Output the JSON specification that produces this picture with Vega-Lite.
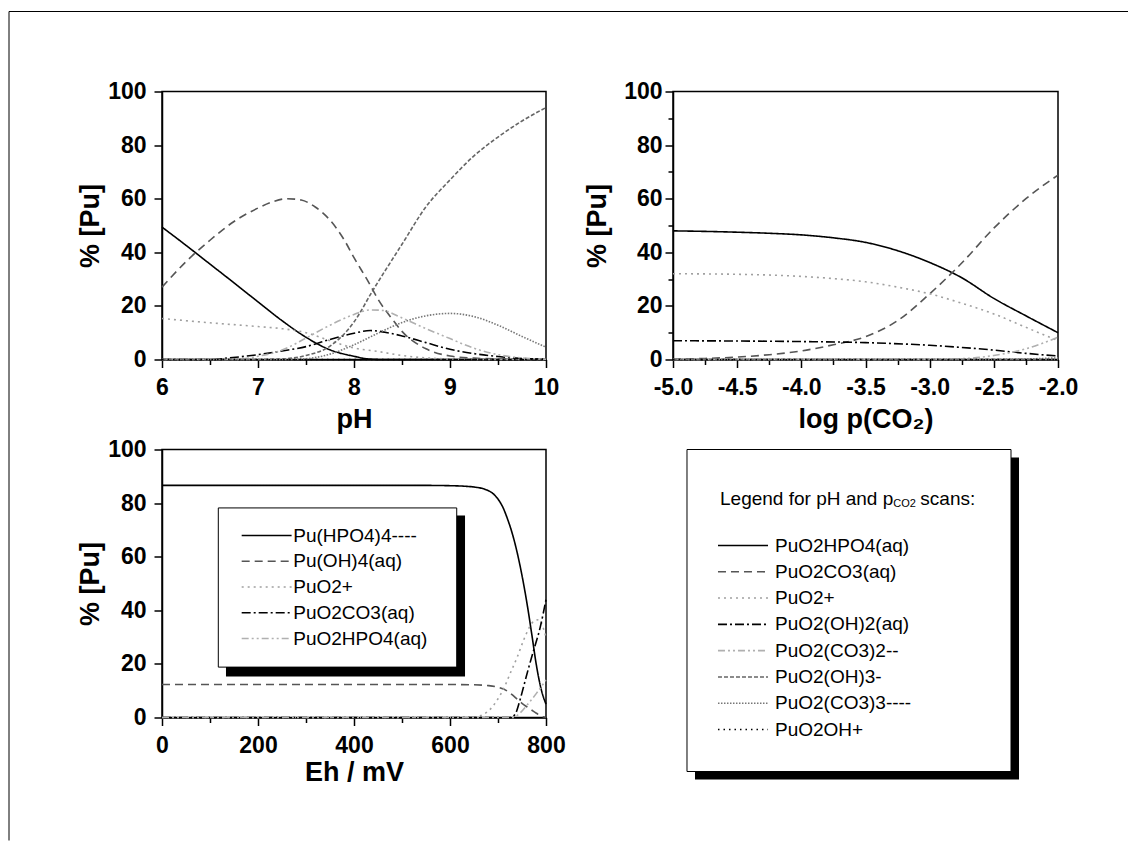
{
  "$schema": "https://vega.github.io/schema/vega-lite/v6.json",
  "background": "white",
  "padding": {"left": 7, "top": 9.5, "right": 0, "bottom": 0},
  "config": {
    "font": "Liberation Sans",
    "view": {"stroke": "black", "strokeWidth": 1.5},
    "axis": {
      "grid": false,
      "labelFont": "Liberation Sans", "labelFontWeight": "bold", "labelFontSize": 23, "labelColor": "black",
      "titleFont": "Liberation Sans", "titleFontWeight": "bold", "titleFontSize": 27, "titleColor": "black",
      "domainColor": "black", "domainWidth": 1.5, "tickColor": "black", "tickWidth": 1.5,
      "labelOverlap": false, "labelFlush": false
    }
  },
  "datasets": {
    "ph": [
      {"pH":6,"species":"PuO2HPO4(aq)","pct":49.4},{"pH":6.25,"species":"PuO2HPO4(aq)","pct":42.6},{"pH":6.5,"species":"PuO2HPO4(aq)","pct":35.6},{"pH":6.75,"species":"PuO2HPO4(aq)","pct":28.6},{"pH":7,"species":"PuO2HPO4(aq)","pct":21.5},{"pH":7.25,"species":"PuO2HPO4(aq)","pct":14.5},{"pH":7.5,"species":"PuO2HPO4(aq)","pct":8.3},{"pH":7.75,"species":"PuO2HPO4(aq)","pct":3.6},{"pH":8,"species":"PuO2HPO4(aq)","pct":1.2},{"pH":8.15,"species":"PuO2HPO4(aq)","pct":0.2},{"pH":8.3,"species":"PuO2HPO4(aq)","pct":0},{"pH":9,"species":"PuO2HPO4(aq)","pct":0},{"pH":10,"species":"PuO2HPO4(aq)","pct":0},
      {"pH":6,"species":"PuO2CO3(aq)","pct":27},{"pH":6.25,"species":"PuO2CO3(aq)","pct":36.5},{"pH":6.5,"species":"PuO2CO3(aq)","pct":44.5},{"pH":6.75,"species":"PuO2CO3(aq)","pct":51.5},{"pH":7,"species":"PuO2CO3(aq)","pct":56.5},{"pH":7.15,"species":"PuO2CO3(aq)","pct":58.8},{"pH":7.3,"species":"PuO2CO3(aq)","pct":60},{"pH":7.45,"species":"PuO2CO3(aq)","pct":59.5},{"pH":7.6,"species":"PuO2CO3(aq)","pct":56.8},{"pH":7.75,"species":"PuO2CO3(aq)","pct":52},{"pH":7.9,"species":"PuO2CO3(aq)","pct":44.5},{"pH":8,"species":"PuO2CO3(aq)","pct":38},{"pH":8.15,"species":"PuO2CO3(aq)","pct":29},{"pH":8.25,"species":"PuO2CO3(aq)","pct":22.5},{"pH":8.4,"species":"PuO2CO3(aq)","pct":15},{"pH":8.5,"species":"PuO2CO3(aq)","pct":10.5},{"pH":8.75,"species":"PuO2CO3(aq)","pct":4},{"pH":9,"species":"PuO2CO3(aq)","pct":1.3},{"pH":9.25,"species":"PuO2CO3(aq)","pct":0.5},{"pH":9.5,"species":"PuO2CO3(aq)","pct":0.2},{"pH":10,"species":"PuO2CO3(aq)","pct":0},
      {"pH":6,"species":"PuO2+","pct":15.3},{"pH":6.5,"species":"PuO2+","pct":13.7},{"pH":7,"species":"PuO2+","pct":12.3},{"pH":7.25,"species":"PuO2+","pct":11.5},{"pH":7.5,"species":"PuO2+","pct":10},{"pH":7.75,"species":"PuO2+","pct":7},{"pH":8,"species":"PuO2+","pct":4.3},{"pH":8.25,"species":"PuO2+","pct":3},{"pH":8.5,"species":"PuO2+","pct":1.5},{"pH":8.75,"species":"PuO2+","pct":0.6},{"pH":9,"species":"PuO2+","pct":0.2},{"pH":9.5,"species":"PuO2+","pct":0},{"pH":10,"species":"PuO2+","pct":0},
      {"pH":6,"species":"PuO2(OH)2(aq)","pct":0},{"pH":6.5,"species":"PuO2(OH)2(aq)","pct":0},{"pH":6.7,"species":"PuO2(OH)2(aq)","pct":0.6},{"pH":7,"species":"PuO2(OH)2(aq)","pct":1.8},{"pH":7.25,"species":"PuO2(OH)2(aq)","pct":3.2},{"pH":7.5,"species":"PuO2(OH)2(aq)","pct":4.8},{"pH":7.75,"species":"PuO2(OH)2(aq)","pct":7.5},{"pH":8,"species":"PuO2(OH)2(aq)","pct":9.8},{"pH":8.17,"species":"PuO2(OH)2(aq)","pct":10.8},{"pH":8.35,"species":"PuO2(OH)2(aq)","pct":10},{"pH":8.5,"species":"PuO2(OH)2(aq)","pct":8.8},{"pH":8.75,"species":"PuO2(OH)2(aq)","pct":6.3},{"pH":9,"species":"PuO2(OH)2(aq)","pct":3.8},{"pH":9.25,"species":"PuO2(OH)2(aq)","pct":2.2},{"pH":9.5,"species":"PuO2(OH)2(aq)","pct":1.1},{"pH":9.75,"species":"PuO2(OH)2(aq)","pct":0.4},{"pH":10,"species":"PuO2(OH)2(aq)","pct":0.1},
      {"pH":6,"species":"PuO2(CO3)2--","pct":0},{"pH":6.75,"species":"PuO2(CO3)2--","pct":0},{"pH":7,"species":"PuO2(CO3)2--","pct":1.2},{"pH":7.25,"species":"PuO2(CO3)2--","pct":3.5},{"pH":7.5,"species":"PuO2(CO3)2--","pct":8},{"pH":7.75,"species":"PuO2(CO3)2--","pct":12.8},{"pH":8,"species":"PuO2(CO3)2--","pct":16.8},{"pH":8.17,"species":"PuO2(CO3)2--","pct":18.5},{"pH":8.3,"species":"PuO2(CO3)2--","pct":18.3},{"pH":8.5,"species":"PuO2(CO3)2--","pct":15.5},{"pH":8.75,"species":"PuO2(CO3)2--","pct":11.5},{"pH":9,"species":"PuO2(CO3)2--","pct":7.8},{"pH":9.25,"species":"PuO2(CO3)2--","pct":4.2},{"pH":9.5,"species":"PuO2(CO3)2--","pct":1.8},{"pH":9.75,"species":"PuO2(CO3)2--","pct":0.6},{"pH":10,"species":"PuO2(CO3)2--","pct":0.1},
      {"pH":6,"species":"PuO2(OH)3-","pct":0},{"pH":7,"species":"PuO2(OH)3-","pct":0},{"pH":7.25,"species":"PuO2(OH)3-","pct":0.2},{"pH":7.5,"species":"PuO2(OH)3-","pct":1.5},{"pH":7.75,"species":"PuO2(OH)3-","pct":5},{"pH":8,"species":"PuO2(OH)3-","pct":14},{"pH":8.2,"species":"PuO2(OH)3-","pct":26},{"pH":8.5,"species":"PuO2(OH)3-","pct":43},{"pH":8.75,"species":"PuO2(OH)3-","pct":57},{"pH":9,"species":"PuO2(OH)3-","pct":67},{"pH":9.25,"species":"PuO2(OH)3-","pct":76},{"pH":9.5,"species":"PuO2(OH)3-","pct":83},{"pH":9.75,"species":"PuO2(OH)3-","pct":89},{"pH":10,"species":"PuO2(OH)3-","pct":94},
      {"pH":6,"species":"PuO2(CO3)3----","pct":0},{"pH":7.25,"species":"PuO2(CO3)3----","pct":0},{"pH":7.5,"species":"PuO2(CO3)3----","pct":0.3},{"pH":7.75,"species":"PuO2(CO3)3----","pct":2},{"pH":8,"species":"PuO2(CO3)3----","pct":5.5},{"pH":8.25,"species":"PuO2(CO3)3----","pct":9.8},{"pH":8.5,"species":"PuO2(CO3)3----","pct":13.8},{"pH":8.75,"species":"PuO2(CO3)3----","pct":16.3},{"pH":9,"species":"PuO2(CO3)3----","pct":17.2},{"pH":9.25,"species":"PuO2(CO3)3----","pct":16},{"pH":9.5,"species":"PuO2(CO3)3----","pct":12.8},{"pH":9.75,"species":"PuO2(CO3)3----","pct":8.6},{"pH":10,"species":"PuO2(CO3)3----","pct":4.6},
      {"pH":6,"species":"PuO2OH+","pct":0},{"pH":8,"species":"PuO2OH+","pct":0},{"pH":10,"species":"PuO2OH+","pct":0}
    ],
    "co2": [
      {"lpco2":-5,"species":"PuO2HPO4(aq)","pct":48},{"lpco2":-4.75,"species":"PuO2HPO4(aq)","pct":47.8},{"lpco2":-4.5,"species":"PuO2HPO4(aq)","pct":47.5},{"lpco2":-4.25,"species":"PuO2HPO4(aq)","pct":47.1},{"lpco2":-4,"species":"PuO2HPO4(aq)","pct":46.5},{"lpco2":-3.75,"species":"PuO2HPO4(aq)","pct":45.4},{"lpco2":-3.5,"species":"PuO2HPO4(aq)","pct":43.7},{"lpco2":-3.25,"species":"PuO2HPO4(aq)","pct":40.6},{"lpco2":-3,"species":"PuO2HPO4(aq)","pct":36.2},{"lpco2":-2.75,"species":"PuO2HPO4(aq)","pct":30.5},{"lpco2":-2.5,"species":"PuO2HPO4(aq)","pct":22.8},{"lpco2":-2.25,"species":"PuO2HPO4(aq)","pct":16.3},{"lpco2":-2,"species":"PuO2HPO4(aq)","pct":10},
      {"lpco2":-5,"species":"PuO2CO3(aq)","pct":0.1},{"lpco2":-4.75,"species":"PuO2CO3(aq)","pct":0.4},{"lpco2":-4.5,"species":"PuO2CO3(aq)","pct":0.9},{"lpco2":-4.25,"species":"PuO2CO3(aq)","pct":1.8},{"lpco2":-4,"species":"PuO2CO3(aq)","pct":3.2},{"lpco2":-3.75,"species":"PuO2CO3(aq)","pct":5.5},{"lpco2":-3.5,"species":"PuO2CO3(aq)","pct":8.5},{"lpco2":-3.25,"species":"PuO2CO3(aq)","pct":14.5},{"lpco2":-3,"species":"PuO2CO3(aq)","pct":24.5},{"lpco2":-2.75,"species":"PuO2CO3(aq)","pct":36},{"lpco2":-2.5,"species":"PuO2CO3(aq)","pct":49},{"lpco2":-2.25,"species":"PuO2CO3(aq)","pct":60},{"lpco2":-2,"species":"PuO2CO3(aq)","pct":68.8},
      {"lpco2":-5,"species":"PuO2+","pct":32},{"lpco2":-4.5,"species":"PuO2+","pct":31.8},{"lpco2":-4,"species":"PuO2+","pct":31},{"lpco2":-3.75,"species":"PuO2+","pct":30.2},{"lpco2":-3.5,"species":"PuO2+","pct":29},{"lpco2":-3.25,"species":"PuO2+","pct":27},{"lpco2":-3,"species":"PuO2+","pct":24.5},{"lpco2":-2.75,"species":"PuO2+","pct":21},{"lpco2":-2.5,"species":"PuO2+","pct":17},{"lpco2":-2.25,"species":"PuO2+","pct":12},{"lpco2":-2,"species":"PuO2+","pct":7},
      {"lpco2":-5,"species":"PuO2(OH)2(aq)","pct":7},{"lpco2":-4.5,"species":"PuO2(OH)2(aq)","pct":6.9},{"lpco2":-4,"species":"PuO2(OH)2(aq)","pct":6.7},{"lpco2":-3.5,"species":"PuO2(OH)2(aq)","pct":6.3},{"lpco2":-3,"species":"PuO2(OH)2(aq)","pct":5.3},{"lpco2":-2.75,"species":"PuO2(OH)2(aq)","pct":4.5},{"lpco2":-2.5,"species":"PuO2(OH)2(aq)","pct":3.5},{"lpco2":-2.25,"species":"PuO2(OH)2(aq)","pct":2.3},{"lpco2":-2,"species":"PuO2(OH)2(aq)","pct":1.3},
      {"lpco2":-5,"species":"PuO2(CO3)2--","pct":0},{"lpco2":-3,"species":"PuO2(CO3)2--","pct":0},{"lpco2":-2.75,"species":"PuO2(CO3)2--","pct":0.3},{"lpco2":-2.5,"species":"PuO2(CO3)2--","pct":1.5},{"lpco2":-2.25,"species":"PuO2(CO3)2--","pct":4},{"lpco2":-2,"species":"PuO2(CO3)2--","pct":8.3},
      {"lpco2":-5,"species":"PuO2(OH)3-","pct":0},{"lpco2":-2,"species":"PuO2(OH)3-","pct":0},
      {"lpco2":-5,"species":"PuO2(CO3)3----","pct":0},{"lpco2":-2.5,"species":"PuO2(CO3)3----","pct":0},{"lpco2":-2.25,"species":"PuO2(CO3)3----","pct":0.2},{"lpco2":-2,"species":"PuO2(CO3)3----","pct":0.6},
      {"lpco2":-5,"species":"PuO2OH+","pct":0},{"lpco2":-2,"species":"PuO2OH+","pct":0}
    ],
    "eh": [
      {"Eh":0,"species":"Pu(HPO4)4----","pct":86.6},{"Eh":400,"species":"Pu(HPO4)4----","pct":86.6},{"Eh":550,"species":"Pu(HPO4)4----","pct":86.6},{"Eh":600,"species":"Pu(HPO4)4----","pct":86.5},{"Eh":630,"species":"Pu(HPO4)4----","pct":86.3},{"Eh":650,"species":"Pu(HPO4)4----","pct":86},{"Eh":675,"species":"Pu(HPO4)4----","pct":85},{"Eh":690,"species":"Pu(HPO4)4----","pct":83.5},{"Eh":700,"species":"Pu(HPO4)4----","pct":81.5},{"Eh":710,"species":"Pu(HPO4)4----","pct":78.5},{"Eh":720,"species":"Pu(HPO4)4----","pct":74},{"Eh":730,"species":"Pu(HPO4)4----","pct":68.5},{"Eh":740,"species":"Pu(HPO4)4----","pct":61.5},{"Eh":750,"species":"Pu(HPO4)4----","pct":53},{"Eh":760,"species":"Pu(HPO4)4----","pct":43},{"Eh":770,"species":"Pu(HPO4)4----","pct":31.5},{"Eh":780,"species":"Pu(HPO4)4----","pct":19.5},{"Eh":790,"species":"Pu(HPO4)4----","pct":10.5},{"Eh":800,"species":"Pu(HPO4)4----","pct":5},
      {"Eh":0,"species":"Pu(OH)4(aq)","pct":12.3},{"Eh":600,"species":"Pu(OH)4(aq)","pct":12.3},{"Eh":650,"species":"Pu(OH)4(aq)","pct":12.2},{"Eh":680,"species":"Pu(OH)4(aq)","pct":11.9},{"Eh":700,"species":"Pu(OH)4(aq)","pct":11.3},{"Eh":715,"species":"Pu(OH)4(aq)","pct":10.3},{"Eh":730,"species":"Pu(OH)4(aq)","pct":8.4},{"Eh":740,"species":"Pu(OH)4(aq)","pct":6.8},{"Eh":750,"species":"Pu(OH)4(aq)","pct":5.3},{"Eh":760,"species":"Pu(OH)4(aq)","pct":4},{"Eh":770,"species":"Pu(OH)4(aq)","pct":2.8},{"Eh":780,"species":"Pu(OH)4(aq)","pct":1.6},{"Eh":790,"species":"Pu(OH)4(aq)","pct":0.5},{"Eh":800,"species":"Pu(OH)4(aq)","pct":0.1},
      {"Eh":0,"species":"PuO2+","pct":0},{"Eh":620,"species":"PuO2+","pct":0},{"Eh":650,"species":"PuO2+","pct":0.2},{"Eh":670,"species":"PuO2+","pct":1.2},{"Eh":685,"species":"PuO2+","pct":3.3},{"Eh":700,"species":"PuO2+","pct":7},{"Eh":715,"species":"PuO2+","pct":12},{"Eh":725,"species":"PuO2+","pct":16.3},{"Eh":740,"species":"PuO2+","pct":22.5},{"Eh":753,"species":"PuO2+","pct":28.7},{"Eh":765,"species":"PuO2+","pct":33.5},{"Eh":775,"species":"PuO2+","pct":36},{"Eh":785,"species":"PuO2+","pct":36.5},{"Eh":795,"species":"PuO2+","pct":33},{"Eh":800,"species":"PuO2+","pct":30},
      {"Eh":0,"species":"PuO2CO3(aq)","pct":0},{"Eh":725,"species":"PuO2CO3(aq)","pct":0},{"Eh":735,"species":"PuO2CO3(aq)","pct":1},{"Eh":745,"species":"PuO2CO3(aq)","pct":6},{"Eh":753,"species":"PuO2CO3(aq)","pct":11.3},{"Eh":763,"species":"PuO2CO3(aq)","pct":18},{"Eh":773,"species":"PuO2CO3(aq)","pct":24.3},{"Eh":788,"species":"PuO2CO3(aq)","pct":33.7},{"Eh":800,"species":"PuO2CO3(aq)","pct":44},
      {"Eh":0,"species":"PuO2HPO4(aq)","pct":0},{"Eh":730,"species":"PuO2HPO4(aq)","pct":0},{"Eh":745,"species":"PuO2HPO4(aq)","pct":1.5},{"Eh":760,"species":"PuO2HPO4(aq)","pct":4.5},{"Eh":780,"species":"PuO2HPO4(aq)","pct":9},{"Eh":800,"species":"PuO2HPO4(aq)","pct":14}
    ],
    "legTop": [
      {"species":"PuO2HPO4(aq)"},{"species":"PuO2CO3(aq)"},{"species":"PuO2+"},{"species":"PuO2(OH)2(aq)"},{"species":"PuO2(CO3)2--"},{"species":"PuO2(OH)3-"},{"species":"PuO2(CO3)3----"},{"species":"PuO2OH+"}
    ],
    "legEh": [
      {"species":"Pu(HPO4)4----"},{"species":"Pu(OH)4(aq)"},{"species":"PuO2+"},{"species":"PuO2CO3(aq)"},{"species":"PuO2HPO4(aq)"}
    ],
    "one": [{}]
  },
  "columns": 2,
  "spacing": {"row": 90, "column": 127},
  "bounds": "flush",
  "resolve": {"scale": {"color": "independent", "strokeDash": "independent"}},
  "concat": [
    {
      "width": 384, "height": 268,
      "layer": [
        {
          "data": {"name": "ph"},
          "mark": {"type": "line", "strokeWidth": 1.6, "interpolate": "monotone"},
          "encoding": {
            "x": {"field": "pH", "type": "quantitative", "scale": {"domain": [6, 10], "nice": false, "zero": false},
              "axis": {"title": "pH", "values": [6, 6.5, 7, 7.5, 8, 8.5, 9, 9.5, 10], "labelExpr": "datum.value % 1 === 0 ? format(datum.value, 'd') : ''",
                "tickSize": {"condition": {"test": "datum.value % 1 !== 0", "value": 5}, "value": 8}, "labelPadding": 9, "titlePadding": 7}},
            "y": {"field": "pct", "type": "quantitative", "scale": {"domain": [0, 100], "nice": false},
              "axis": {"title": "% [Pu]", "values": [0, 10, 20, 30, 40, 50, 60, 70, 80, 90, 100], "labelExpr": "datum.value % 20 === 0 ? datum.label : ''",
                "tickSize": {"condition": {"test": "datum.value % 20 !== 0", "value": 5}, "value": 8}, "labelPadding": 8, "titlePadding": 3}},
            "strokeDash": {"field": "species", "type": "nominal", "legend": null,
              "scale": {"domain": ["PuO2HPO4(aq)", "PuO2CO3(aq)", "PuO2+", "PuO2(OH)2(aq)", "PuO2(CO3)2--", "PuO2(OH)3-", "PuO2(CO3)3----", "PuO2OH+"],
                "range": [[1, 0], [8, 5], [2, 4], [9, 3, 2, 3], [7, 3, 2, 3, 2, 3], [4, 2], [1.5, 1.5], [1.5, 4]]}},
            "color": {"field": "species", "type": "nominal", "legend": null,
              "scale": {"domain": ["PuO2HPO4(aq)", "PuO2CO3(aq)", "PuO2+", "PuO2(OH)2(aq)", "PuO2(CO3)2--", "PuO2(OH)3-", "PuO2(CO3)3----", "PuO2OH+"],
                "range": ["#000000", "#555555", "#a0a0a0", "#000000", "#b0b0b0", "#666666", "#777777", "#000000"]}}
          }
        },
        {
          "data": {"name": "one"},
          "mark": {"type": "rule", "color": "black", "strokeWidth": 1},
          "encoding": {
            "x": {"datum": 4.40625, "type": "quantitative"}, "x2": {"datum": 16.0625},
            "y": {"datum": 129.85, "type": "quantitative"}
          }
        },
        {
          "data": {"name": "one"},
          "mark": {"type": "rule", "color": "black", "strokeWidth": 1},
          "encoding": {
            "x": {"datum": 4.40625, "type": "quantitative"},
            "y": {"datum": 129.85, "type": "quantitative"}, "y2": {"datum": -179.48}
          }
        }
      ]
    },
    {
      "width": 385, "height": 268,
      "data": {"name": "co2"},
      "mark": {"type": "line", "strokeWidth": 1.6, "interpolate": "monotone"},
      "encoding": {
        "x": {"field": "lpco2", "type": "quantitative", "scale": {"domain": [-5, -2], "nice": false, "zero": false},
          "axis": {"title": "log p(CO₂)", "values": [-5, -4.75, -4.5, -4.25, -4, -3.75, -3.5, -3.25, -3, -2.75, -2.5, -2.25, -2],
            "labelExpr": "(datum.value * 4) % 2 === 0 ? ('-' + format(-datum.value, '.1f')) : ''",
            "tickSize": {"condition": {"test": "(datum.value * 4) % 2 !== 0", "value": 5}, "value": 8}, "labelPadding": 9, "titlePadding": 7}},
        "y": {"field": "pct", "type": "quantitative", "scale": {"domain": [0, 100], "nice": false},
          "axis": {"title": "% [Pu]", "values": [0, 10, 20, 30, 40, 50, 60, 70, 80, 90, 100], "labelExpr": "datum.value % 20 === 0 ? datum.label : ''",
            "tickSize": {"condition": {"test": "datum.value % 20 !== 0", "value": 5}, "value": 8}, "labelPadding": 3, "titlePadding": 12}},
        "strokeDash": {"field": "species", "type": "nominal", "legend": null,
          "scale": {"domain": ["PuO2HPO4(aq)", "PuO2CO3(aq)", "PuO2+", "PuO2(OH)2(aq)", "PuO2(CO3)2--", "PuO2(OH)3-", "PuO2(CO3)3----", "PuO2OH+"],
            "range": [[1, 0], [8, 5], [2, 4], [9, 3, 2, 3], [7, 3, 2, 3, 2, 3], [4, 2], [1.5, 1.5], [1.5, 4]]}},
        "color": {"field": "species", "type": "nominal", "legend": null,
          "scale": {"domain": ["PuO2HPO4(aq)", "PuO2CO3(aq)", "PuO2+", "PuO2(OH)2(aq)", "PuO2(CO3)2--", "PuO2(OH)3-", "PuO2(CO3)3----", "PuO2OH+"],
            "range": ["#000000", "#555555", "#a0a0a0", "#000000", "#b0b0b0", "#666666", "#777777", "#000000"]}}
      }
    },
    {
      "width": 384, "height": 268,
      "resolve": {"scale": {"y": "independent"}},
      "layer": [
        {
          "layer": [
            {
              "data": {"name": "eh"},
              "mark": {"type": "line", "strokeWidth": 1.6, "interpolate": "monotone"},
              "encoding": {
                "x": {"field": "Eh", "type": "quantitative", "scale": {"domain": [0, 800], "nice": false, "zero": false},
                  "axis": {"title": "Eh / mV", "values": [0, 100, 200, 300, 400, 500, 600, 700, 800], "labelExpr": "datum.value % 200 === 0 ? datum.label : ''",
                    "tickSize": {"condition": {"test": "datum.value % 200 !== 0", "value": 5}, "value": 8}, "labelPadding": 9, "titlePadding": 2}},
                "y": {"field": "pct", "type": "quantitative", "scale": {"domain": [0, 100], "nice": false},
                  "axis": {"title": "% [Pu]", "values": [0, 10, 20, 30, 40, 50, 60, 70, 80, 90, 100], "labelExpr": "datum.value % 20 === 0 ? datum.label : ''",
                    "tickSize": {"condition": {"test": "datum.value % 20 !== 0", "value": 5}, "value": 8}, "labelPadding": 8, "titlePadding": 3}},
                "strokeDash": {"field": "species", "type": "nominal", "legend": null,
                  "scale": {"domain": ["Pu(HPO4)4----", "Pu(OH)4(aq)", "PuO2+", "PuO2CO3(aq)", "PuO2HPO4(aq)"],
                    "range": [[1, 0], [8, 5], [2, 4], [9, 3, 2, 3], [7, 3, 2, 3, 2, 3]]}},
                "color": {"field": "species", "type": "nominal", "legend": null,
                  "scale": {"domain": ["Pu(HPO4)4----", "Pu(OH)4(aq)", "PuO2+", "PuO2CO3(aq)", "PuO2HPO4(aq)"],
                    "range": ["#000000", "#555555", "#a0a0a0", "#000000", "#b0b0b0"]}}
              }
            },
            {
              "data": {"name": "one"},
              "mark": {"type": "rect", "color": "black"},
              "encoding": {
                "x": {"datum": 133.3, "type": "quantitative"}, "x2": {"datum": 631.3},
                "y": {"datum": 75.4, "type": "quantitative"}, "y2": {"datum": 15.3}
              }
            },
            {
              "data": {"name": "one"},
              "mark": {"type": "rect", "fill": "white", "stroke": "black", "strokeWidth": 1},
              "encoding": {
                "x": {"datum": 117.3, "type": "quantitative"}, "x2": {"datum": 614},
                "y": {"datum": 78.2, "type": "quantitative"}, "y2": {"datum": 18.8}
              }
            }
          ]
        },
        {
          "data": {"name": "legEh"},
          "layer": [
            {
              "mark": {"type": "rule", "strokeWidth": 1.6},
              "encoding": {
                "x": {"datum": 166, "type": "quantitative"}, "x2": {"datum": 270},
                "y": {"field": "species", "type": "nominal", "axis": null,
                  "scale": {"type": "point", "domain": ["Pu(HPO4)4----", "Pu(OH)4(aq)", "PuO2+", "PuO2CO3(aq)", "PuO2HPO4(aq)"], "range": [86, 189], "padding": 0}},
                "strokeDash": {"field": "species", "type": "nominal", "legend": null,
                  "scale": {"domain": ["Pu(HPO4)4----", "Pu(OH)4(aq)", "PuO2+", "PuO2CO3(aq)", "PuO2HPO4(aq)"],
                    "range": [[1, 0], [8, 5], [2, 4], [9, 3, 2, 3], [7, 3, 2, 3, 2, 3]]}},
                "color": {"field": "species", "type": "nominal", "legend": null,
                  "scale": {"domain": ["Pu(HPO4)4----", "Pu(OH)4(aq)", "PuO2+", "PuO2CO3(aq)", "PuO2HPO4(aq)"],
                    "range": ["#000000", "#555555", "#a0a0a0", "#000000", "#b0b0b0"]}}
              }
            },
            {
              "mark": {"type": "text", "align": "left", "baseline": "middle", "fontSize": 19, "font": "Liberation Sans", "color": "black"},
              "encoding": {
                "x": {"datum": 273.5, "type": "quantitative"},
                "y": {"field": "species", "type": "nominal", "axis": null,
                  "scale": {"type": "point", "domain": ["Pu(HPO4)4----", "Pu(OH)4(aq)", "PuO2+", "PuO2CO3(aq)", "PuO2HPO4(aq)"], "range": [86, 189], "padding": 0}},
                "text": {"field": "species"}
              }
            }
          ]
        }
      ]
    },
    {
      "width": 338, "height": 322,
      "view": {"stroke": null},
      "resolve": {"scale": {"y": "independent"}},
      "layer": [
        {
          "data": {"name": "one"},
          "layer": [
            {
              "mark": {"type": "rect", "color": "black"},
              "encoding": {
                "x": {"datum": 0.0651, "type": "quantitative", "scale": {"domain": [0, 1], "nice": false, "zero": false}, "axis": null}, "x2": {"datum": 1.0237},
                "y": {"datum": 0.0248, "type": "quantitative", "scale": {"domain": [0, 1], "nice": false, "zero": false, "reverse": true}, "axis": null}, "y2": {"datum": 1.0248}
              }
            },
            {
              "mark": {"type": "rect", "fill": "white", "stroke": "black", "strokeWidth": 1},
              "encoding": {
                "x": {"datum": 0.0414, "type": "quantitative"}, "x2": {"datum": 1},
                "y": {"datum": 0, "type": "quantitative"}, "y2": {"datum": 1}
              }
            },
            {
              "mark": {"type": "text", "align": "left", "baseline": "middle", "fontSize": 19, "font": "Liberation Sans", "color": "black"},
              "encoding": {
                "x": {"datum": 0.1391, "type": "quantitative"},
                "y": {"datum": 0.1543, "type": "quantitative"},
                "text": {"value": "Legend for pH and p"}
              }
            },
            {
              "mark": {"type": "text", "align": "left", "baseline": "middle", "fontSize": 11, "font": "Liberation Sans", "color": "black"},
              "encoding": {
                "x": {"datum": 0.6515, "type": "quantitative"},
                "y": {"datum": 0.1708, "type": "quantitative"},
                "text": {"value": "CO2"}
              }
            },
            {
              "mark": {"type": "text", "align": "left", "baseline": "middle", "fontSize": 19, "font": "Liberation Sans", "color": "black"},
              "encoding": {
                "x": {"datum": 0.7317, "type": "quantitative"},
                "y": {"datum": 0.1543, "type": "quantitative"},
                "text": {"value": "scans:"}
              }
            }
          ]
        },
        {
          "data": {"name": "legTop"},
          "layer": [
            {
              "mark": {"type": "rule", "strokeWidth": 1.6},
              "encoding": {
                "x": {"datum": 0.1331, "type": "quantitative"}, "x2": {"datum": 0.2811},
                "y": {"field": "species", "type": "nominal", "axis": null,
                  "scale": {"type": "point", "domain": ["PuO2HPO4(aq)", "PuO2CO3(aq)", "PuO2+", "PuO2(OH)2(aq)", "PuO2(CO3)2--", "PuO2(OH)3-", "PuO2(CO3)3----", "PuO2OH+"], "range": [96, 280], "padding": 0}},
                "strokeDash": {"field": "species", "type": "nominal", "legend": null,
                  "scale": {"domain": ["PuO2HPO4(aq)", "PuO2CO3(aq)", "PuO2+", "PuO2(OH)2(aq)", "PuO2(CO3)2--", "PuO2(OH)3-", "PuO2(CO3)3----", "PuO2OH+"],
                    "range": [[1, 0], [8, 5], [2, 4], [9, 3, 2, 3], [7, 3, 2, 3, 2, 3], [4, 2], [1.5, 1.5], [1.5, 4]]}},
                "color": {"field": "species", "type": "nominal", "legend": null,
                  "scale": {"domain": ["PuO2HPO4(aq)", "PuO2CO3(aq)", "PuO2+", "PuO2(OH)2(aq)", "PuO2(CO3)2--", "PuO2(OH)3-", "PuO2(CO3)3----", "PuO2OH+"],
                    "range": ["#000000", "#555555", "#a0a0a0", "#000000", "#b0b0b0", "#666666", "#777777", "#000000"]}}
              }
            },
            {
              "mark": {"type": "text", "align": "left", "baseline": "middle", "fontSize": 19, "font": "Liberation Sans", "color": "black"},
              "encoding": {
                "x": {"datum": 0.3018, "type": "quantitative"},
                "y": {"field": "species", "type": "nominal", "axis": null,
                  "scale": {"type": "point", "domain": ["PuO2HPO4(aq)", "PuO2CO3(aq)", "PuO2+", "PuO2(OH)2(aq)", "PuO2(CO3)2--", "PuO2(OH)3-", "PuO2(CO3)3----", "PuO2OH+"], "range": [96, 280], "padding": 0}},
                "text": {"field": "species"}
              }
            }
          ]
        }
      ]
    }
  ]
}
